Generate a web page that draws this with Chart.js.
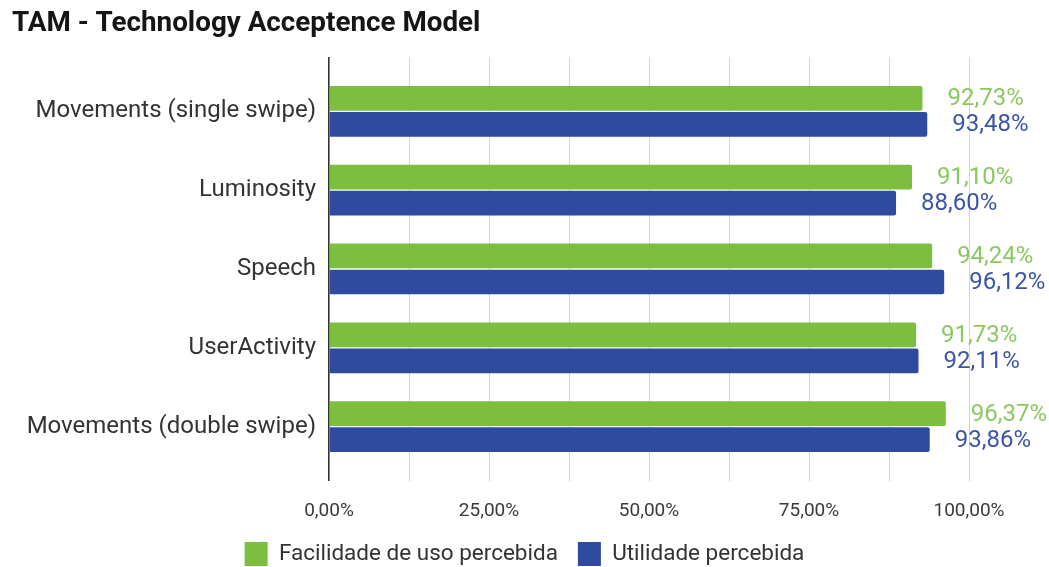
<!DOCTYPE html>
<html>
<head>
<meta charset="utf-8">
<title>TAM - Technology Acceptence Model</title>
<script src="https://cdn.jsdelivr.net/npm/chart.js@4"></script>
<style>
  html, body { margin: 0; padding: 0; background: #fff; }
  #wrap { width: 1049px; height: 567px; position: relative; }
</style>
</head>
<body>
<div id="wrap"><canvas id="tamChart"></canvas></div>
<script>
// ==========================================
// Data
// ==========================================

const categories = [
    "Movements (single swipe)",
    "Luminosity",
    "Speech",
    "UserActivity",
    "Movements (double swipe)"
];

const easeOfUse = [92.73, 91.10, 94.24, 91.73, 96.37];
const usefulness = [93.48, 88.60, 96.12, 92.11, 93.86];

const seriesNames = ["Facilidade de uso percebida", "Utilidade percebida"];

const tickValues = [0, 25, 50, 75, 100];
const gridValues = [0, 12.5, 25, 37.5, 50, 62.5, 75, 87.5, 100];


// ==========================================
// Helpers
// ==========================================

const FONT = "Roboto, 'Noto Sans', sans-serif";

function pct(v){
    return v.toFixed(2).replace(".", ",") + "%";
}

function gridColor(ctx){
    return ctx.tick && ctx.tick.value === 0 ? "#333333" : "#d6d6d6";
}

function gridWidth(ctx){
    return ctx.tick && ctx.tick.value === 0 ? 1.6 : 1;
}

function setGridTicks(scale){
    scale.ticks = gridValues.map(v => ({ value: v }));
}


// value text to the right of each bar
const valueLabels = {

    id: "valueLabels",

    afterDatasetsDraw(chart){

        const ctx = chart.ctx;

        ctx.save();
        ctx.font = "24px " + FONT;
        ctx.textAlign = "left";
        ctx.textBaseline = "middle";

        chart.data.datasets.forEach((ds, i) => {

            const meta = chart.getDatasetMeta(i);

            meta.data.forEach((bar, j) => {
                ctx.fillStyle = ds.labelColor;
                ctx.fillText(pct(ds.data[j]), bar.x + 25, bar.y + 1);
            });
        });

        ctx.restore();
    }
};


// ==========================================
// Chart
// ==========================================

new Chart(document.getElementById("tamChart"), {

    type: "bar",

    data: {
        labels: categories,
        datasets: [
            {
                label: seriesNames[0],
                data: easeOfUse,
                backgroundColor: "#7cbf3f",
                labelColor: "#8cc862",
                borderRadius: 2,
                borderSkipped: "start"
            },
            {
                label: seriesNames[1],
                data: usefulness,
                backgroundColor: "#2e4b9f",
                labelColor: "#3d55a3",
                borderRadius: 2,
                borderSkipped: "start"
            }
        ]
    },

    plugins: [valueLabels],

    options: {

        indexAxis: "y",
        responsive: true,
        maintainAspectRatio: false,
        animation: false,

        categoryPercentage: 0.66,
        barPercentage: 0.95,

        layout: {
            padding: { left: 12, right: 12, top: 0, bottom: 0 }
        },

        scales: {

            x: {
                position: "bottom",
                min: 0,
                max: 100,
                afterBuildTicks: setGridTicks,
                afterFit(scale){
                    scale.height = 56;
                },
                grid: {
                    color: gridColor,
                    lineWidth: gridWidth,
                    tickColor: gridColor,
                    tickWidth: gridWidth,
                    tickLength: 15
                },
                border: { display: false },
                ticks: {
                    padding: 19,
                    color: "#3a3a3a",
                    font: { family: FONT, size: 19 },
                    autoSkip: false,
                    maxRotation: 0,
                    callback: v => tickValues.includes(v) ? pct(v) : ""
                }
            },

            // top copy of the value axis, only for the grid stubs above the plot
            xTop: {
                axis: "x",
                position: "top",
                min: 0,
                max: 100,
                afterBuildTicks: setGridTicks,
                grid: {
                    drawOnChartArea: false,
                    color: gridColor,
                    lineWidth: gridWidth,
                    tickColor: gridColor,
                    tickWidth: gridWidth,
                    tickLength: 15
                },
                border: { display: false },
                ticks: { display: false }
            },

            y: {
                afterFit(scale){
                    scale.width = 317;
                },
                grid: { display: false, drawTicks: false },
                border: { display: false },
                ticks: {
                    padding: 13,
                    color: "#333333",
                    font: { family: FONT, size: 24 }
                }
            },

            // empty strip on the right that holds the value labels
            yRight: {
                axis: "y",
                type: "category",
                position: "right",
                afterFit(scale){
                    scale.width = 68;
                },
                grid: { display: false, drawTicks: false },
                border: { display: false },
                ticks: { display: false }
            }
        },

        plugins: {

            title: {
                display: true,
                text: "TAM - Technology Acceptence Model",
                align: "start",
                color: "#151515",
                font: { family: FONT, size: 27.8, weight: "bold" },
                padding: { top: 7, bottom: 16.6 }
            },

            legend: {
                position: "bottom",
                maxHeight: 45,
                labels: {
                    boxWidth: 23,
                    boxHeight: 24,
                    padding: 20,
                    color: "#333333",
                    font: { family: FONT, size: 22.5 }
                }
            },

            tooltip: { enabled: true }
        }
    }
});
</script>
</body>
</html>
